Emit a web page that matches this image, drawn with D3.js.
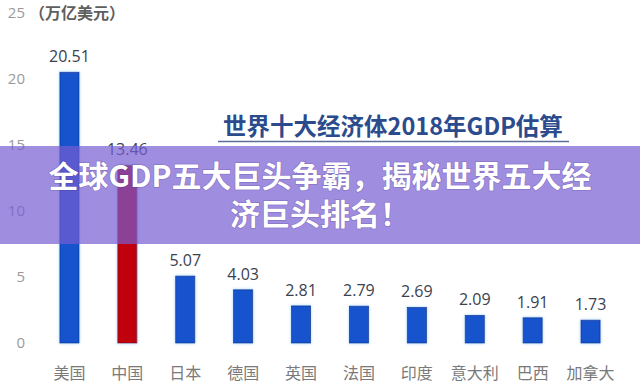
<!DOCTYPE html>
<html><head><meta charset="utf-8">
<script src="https://cdn.jsdelivr.net/npm/d3@7/dist/d3.min.js"></script>
<style>body{margin:0;background:#fff;}svg{display:block;}</style>
</head><body>
<svg id="c" width="640" height="391"></svg>
<script>
const categories = ["美国","中国","日本","德国","英国","法国","印度","意大利","巴西","加拿大"];
const values = [20.51,13.46,5.07,4.03,2.81,2.79,2.69,2.09,1.91,1.73];
const valueLabels = ["20.51","13.46","5.07","4.03","2.81","2.79","2.69","2.09","1.91","1.73"];
const highlight = ["中国"];
const yTicks = [0,5,10,15,20,25];
const unitLabel = "（万亿美元）";
const chartTitle = "世界十大经济体2018年GDP估算";
const overlayLines = ["全球GDP五大巨头争霸，揭秘世界五大经","济巨头排名！"];

const svg = d3.select("#c");
const x = d3.scaleBand().domain(categories).range([40.5,619.5]).paddingInner(0.67).paddingOuter(0.335);
const y = d3.scaleLinear().domain([0,25]).range([343,13]);
const numFont = "'Open Sans','Noto Sans',sans-serif";
const cjk = "'Noto Sans CJK SC','Noto Sans',sans-serif";

const defs = svg.append("defs");
const f = defs.append("filter").attr("id","glow").attr("x","-50%").attr("y","-10%").attr("width","200%").attr("height","120%");
f.append("feGaussianBlur").attr("in","SourceAlpha").attr("stdDeviation",1.5).attr("result","b");
f.append("feFlood").attr("flood-color","#9fd0ff").attr("result","c");
f.append("feComposite").attr("in","c").attr("in2","b").attr("operator","in").attr("result","g");
const m = f.append("feMerge"); m.append("feMergeNode").attr("in","g"); m.append("feMergeNode").attr("in","SourceGraphic");

// y tick labels
svg.append("g").selectAll("text").data(yTicks).join("text")
  .attr("x",25).attr("y",d=>y(d)).attr("dy","0.35em").attr("text-anchor","end")
  .attr("font-family",numFont).attr("font-size",15).attr("fill","#9a9a9a").text(d=>d);

svg.append("text").attr("x",29).attr("y",y(25)+6).attr("font-family",cjk).attr("font-weight","bold")
  .attr("font-size",16).attr("fill","#5e5e5e").text(unitLabel);

// bars
svg.append("g").selectAll("rect").data(categories).join("rect")
  .attr("x",d=>x(d)).attr("width",x.bandwidth())
  .attr("y",(d,i)=>y(values[i])).attr("height",(d,i)=>y(0)-y(values[i]))
  .attr("fill",d=>highlight.includes(d)?"#c0000c":"#1452cc")
  .attr("stroke",d=>highlight.includes(d)?"#7a0008":"#0c3a9a").attr("stroke-width",0.8)
  .attr("filter","url(#glow)");

// value labels
svg.append("g").selectAll("text").data(categories).join("text")
  .attr("x",d=>x(d)+x.bandwidth()/2).attr("y",(d,i)=>y(values[i])-10)
  .attr("text-anchor","middle").attr("font-family",numFont).attr("font-size",16)
  .attr("fill","#3a4150").text((d,i)=>valueLabels[i]);

// x axis labels
const xAxis = d3.axisBottom(x).tickSize(0).tickPadding(0);
const xa = svg.append("g").attr("transform","translate(0,379)").call(xAxis);
xa.select(".domain").remove();
xa.selectAll("text").attr("font-family",cjk).attr("font-size",16).attr("fill","#7a7a7a").attr("dy","0");

// title
svg.append("text").attr("x",393).attr("y",135).attr("text-anchor","middle").attr("font-family",cjk)
  .attr("font-weight","bold").attr("font-size",23.5).attr("fill","#2b4b8c").text(chartTitle);
svg.append("line").attr("x1",218).attr("x2",569).attr("y1",141.5).attr("y2",141.5).attr("stroke","#5d6f99").attr("stroke-width",1.5);

// overlay
svg.append("rect").attr("x",0).attr("y",146).attr("width",640).attr("height",98).attr("fill","rgba(118,92,209,0.7)");
const ot = svg.append("g");
overlayLines.forEach((t,i)=>{
  ot.append("text").attr("x",320).attr("y",187+i*38).attr("text-anchor","middle").attr("font-family",cjk)
    .attr("font-weight","bold").attr("font-size",30).attr("fill","#fff")
    .style("paint-order","stroke").attr("stroke","rgba(60,40,120,0.25)").attr("stroke-width",1.5).text(t);
});
</script>
</body></html>
